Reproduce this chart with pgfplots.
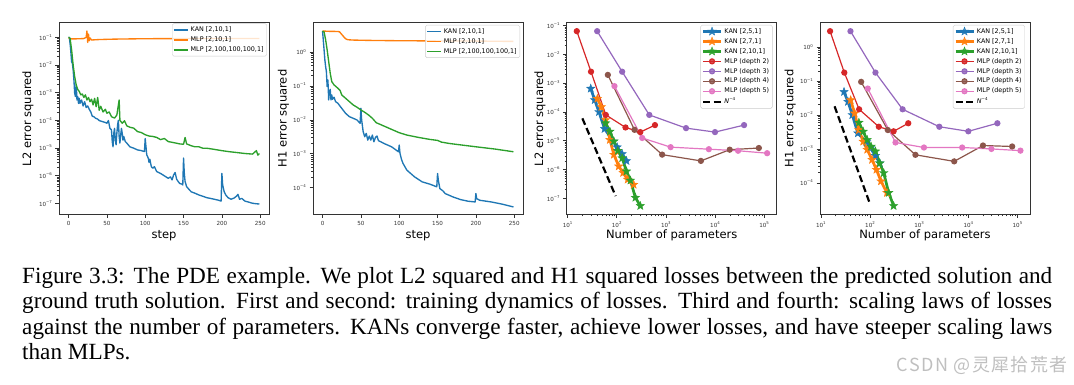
\documentclass[border=0pt]{standalone}
\usepackage{fontspec}
\setmainfont{DejaVu Sans}
\newfontfamily\capfont{Liberation Serif}
\newfontfamily\cjk[LetterSpace=8]{Noto Sans CJK SC}
\usepackage{pgfplots}
\pgfplotsset{compat=1.18}
\definecolor{tblue}{HTML}{1F77B4}
\definecolor{torange}{HTML}{FF7F0E}
\definecolor{tgreen}{HTML}{2CA02C}
\definecolor{tred}{HTML}{D62728}
\definecolor{tpurple}{HTML}{9467BD}
\definecolor{tbrown}{HTML}{8C564B}
\definecolor{tpink}{HTML}{E377C2}
\newcommand{\ex}[1]{10\raisebox{0.5em}{\fontsize{3.9}{4}\selectfont #1}}
\pgfdeclareplotmark{fivestar}{%
  \pgfpathmoveto{\pgfpointpolar{90}{\pgfplotmarksize}}%
  \pgfpathlineto{\pgfpointpolar{126}{0.42\pgfplotmarksize}}%
  \pgfpathlineto{\pgfpointpolar{162}{\pgfplotmarksize}}%
  \pgfpathlineto{\pgfpointpolar{198}{0.42\pgfplotmarksize}}%
  \pgfpathlineto{\pgfpointpolar{234}{\pgfplotmarksize}}%
  \pgfpathlineto{\pgfpointpolar{270}{0.42\pgfplotmarksize}}%
  \pgfpathlineto{\pgfpointpolar{306}{\pgfplotmarksize}}%
  \pgfpathlineto{\pgfpointpolar{342}{0.42\pgfplotmarksize}}%
  \pgfpathlineto{\pgfpointpolar{18}{\pgfplotmarksize}}%
  \pgfpathlineto{\pgfpointpolar{54}{0.42\pgfplotmarksize}}%
  \pgfpathclose
  \pgfusepathqfillstroke}
\pgfplotsset{
  mybase/.style={scale only axis, width=210pt, height=192pt, anchor=south west,
    axis line style={black!80, line width=0.8pt},
    every tick/.style={black!80, line width=0.6pt},
    major tick length=3.5pt, minor tick length=2pt, tick align=outside, tick pos=left,
    ticklabel style={font=\fontsize{5.6}{6}\selectfont, text=black!80},
    label style={font=\fontsize{11.5}{13}\selectfont},
    xlabel style={at={(axis description cs:0.5,-0.11)}, anchor=center},
    /pgf/number format/assume math mode=true,
    legend cell align=left,
    legend style={font=\fontsize{6.4}{7}\selectfont, draw=black!20, rounded corners=1.5pt,
      fill=white, fill opacity=0.8, text opacity=1, inner sep=1pt, row sep=-0.6pt,
      nodes={inner sep=2.1pt}},
  },
  stepax/.style={mybase, xlabel={step},
    legend image code/.code={\draw[##1] (0pt,0pt) -- (14pt,0pt);}},
  parax/.style={mybase, xlabel={Number of parameters},
    legend image code/.code={\draw[mark repeat=2,mark phase=2,##1] plot coordinates {(0pt,0pt) (9pt,0pt) (18pt,0pt)};}},
  st/.style={color=#1, line width=1.35pt, line join=round},
  kan/.style={color=#1, line width=2.7pt, mark=fivestar, mark size=4.4pt, mark options={solid, line width=0.4pt, fill=#1, draw=#1}},
  mlp/.style={color=#1, line width=1.2pt, mark=*, mark size=2.5pt, mark options={solid, draw=#1, fill=#1}},
}
\begin{document}
\begin{tikzpicture}
\useasboundingbox (0pt,0pt) rectangle (1074pt,385pt);
% ---------- Plot 1: L2 vs step
\begin{axis}[ymode=log, stepax, at={(59pt,170.5pt)}, xmin=-12.45, xmax=261.45, xtick={0,50,100,150,200,250},
  ymin=3.93e-8, ymax=0.343,
  ytick={1e-7,1e-6,1e-5,1e-4,1e-3,1e-2,1e-1},
  yticklabels={\ex{−7},\ex{−6},\ex{−5},\ex{−4},\ex{−3},\ex{−2},\ex{−1}},
  ylabel={L2 error squared}, ylabel style={at={(axis description cs:-0.148,0.5)}, anchor=center},
  legend style={at={(0.99,0.995)}, anchor=north east}]
\addplot[st=tblue] coordinates {(0,0.1)(1,0.1)(2,0.06)(3,0.03)(4,0.013)(5,0.0115)(6,6.6e-3)(7,2.9e-3)(8,9.5e-4)(9,7.2e-4)(10,1.9e-3)(11,5.4e-4)(12,7.2e-4)(13,4.1e-4)(14,6.2e-4)(15,4.1e-4)(17,5.4e-4)(19,3.3e-4)(21,4.7e-4)(23,2.9e-4)(25,3.3e-4)(27,2.5e-4)(29,2.0e-4)(31,1.4e-4)(33,1.35e-4)(35,1.2e-4)(38,1.1e-4)(40,9.8e-5)(44,9.0e-5)(48,8.3e-5)(50,7.8e-5)(52,9.8e-5)(54,5.1e-5)(56,4.5e-5)(57,1.7e-5)(58,1.1e-5)(59,3.4e-5)(60,5.1e-5)(61,1.9e-5)(62,1.3e-5)(63,3.4e-5)(64,6.9e-5)(65,1.0e-4)(66,2.6e-5)(67,1.5e-5)(68,2.9e-5)(69,5.1e-5)(70,3.4e-5)(71,1.9e-5)(72,2.6e-5)(74,1.7e-5)(76,1.5e-5)(80,1.1e-5)(85,9.8e-6)(90,8.5e-6)(95,8.0e-6)(99,7.4e-6)(100,2.2e-5)(101,1.1e-5)(102,5.6e-6)(104,4.3e-6)(105,3.0e-6)(106,3.9e-6)(108,2.1e-6)(110,1.85e-6)(112,2.1e-6)(115,1.4e-6)(120,1.2e-6)(125,9.8e-7)(130,8.0e-7)(133,9.0e-7)(135,7.0e-7)(137,1.05e-6)(139,1.3e-6)(141,7.4e-7)(143,6.1e-7)(145,5.2e-7)(148,4.9e-7)(149,4.6e-7)(150,4.3e-6)(151,1.2e-6)(152,6.1e-7)(154,4.0e-7)(157,3.2e-7)(160,2.6e-7)(165,2.3e-7)(170,2.0e-7)(175,1.8e-7)(180,1.6e-7)(185,1.5e-7)(190,1.4e-7)(195,1.3e-7)(199,1.2e-7)(200,1.2e-6)(201,4.6e-7)(203,2.6e-7)(205,2.0e-7)(208,1.6e-7)(212,1.4e-7)(216,1.55e-7)(219,1.8e-7)(221,2.1e-7)(223,1.4e-7)(226,1.5e-7)(230,1.2e-7)(235,1.1e-7)(240,1.0e-7)(245,9.6e-8)(249,9.4e-8)};
\addlegendentry{KAN [2,10,1]}
\addplot[st=torange] coordinates {(0,0.095)(3,0.088)(10,0.088)(20,0.09)(23,0.1)(24,0.17)(25,0.065)(26,0.13)(27,0.075)(28,0.095)(30,0.08)(40,0.083)(60,0.086)(100,0.089)(150,0.09)(200,0.09)(249,0.09)};
\addlegendentry{MLP [2,10,1]}
\addplot[st=tgreen] coordinates {(0,0.1)(2,0.092)(4,0.035)(6,0.01)(8,3.8e-3)(10,1.9e-3)(12,1.3e-3)(14,1.1e-3)(16,8.3e-4)(18,8.9e-4)(20,6.7e-4)(22,8.3e-4)(24,5.4e-4)(26,6.7e-4)(28,4.7e-4)(30,5.8e-4)(32,3.6e-4)(34,6.2e-4)(36,3.1e-4)(38,6.7e-4)(40,2.3e-4)(42,3.2e-4)(45,2.0e-4)(48,2.5e-4)(50,1.8e-4)(53,2.0e-4)(56,1.35e-4)(60,1.2e-4)(63,1.55e-4)(66,5.4e-4)(67,1.0e-4)(70,7.8e-5)(73,9.6e-5)(76,6.3e-5)(80,5.6e-5)(85,5.2e-5)(90,3.9e-5)(95,3.6e-5)(100,3.0e-5)(105,2.7e-5)(110,2.6e-5)(115,2.4e-5)(120,2.0e-5)(125,2.2e-5)(130,1.7e-5)(135,1.6e-5)(140,1.5e-5)(145,1.4e-5)(150,1.36e-5)(152,2.4e-5)(154,1.4e-5)(160,1.2e-5)(165,1.1e-5)(170,1.1e-5)(175,9.8e-6)(180,9.8e-6)(190,8.9e-6)(200,8.0e-6)(210,7.3e-6)(220,6.8e-6)(230,6.3e-6)(240,6.0e-6)(245,8.0e-6)(247,5.5e-6)(249,6.3e-6)};
\addlegendentry{MLP [2,100,100,100,1]}
\end{axis}
% ---------- Plot 2: H1 vs step
\begin{axis}[ymode=log, stepax, at={(313pt,170.5pt)}, xmin=-12.45, xmax=261.45, xtick={0,50,100,150,200,250},
  ymin=1.6e-5, ymax=7.5,
  ytick={1e-4,1e-3,1e-2,1e-1,1},
  yticklabels={\ex{−4},\ex{−3},\ex{−2},\ex{−1},\ex{0}},
  ylabel={H1 error squared}, ylabel style={at={(axis description cs:-0.141,0.5)}, anchor=center},
  legend style={at={(0.986,0.987)}, anchor=north east}]
\addplot[st=tblue] coordinates {(0,4.2)(2,1.17)(3,0.593)(4,0.376)(5,0.267)(6,0.0962)(7,0.151)(8,0.0387)(9,0.0683)(10,0.0801)(11,0.0387)(12,0.0544)(13,0.0405)(15,0.0465)(17,0.0345)(20,0.0308)(25,0.0219)(30,0.0156)(35,0.0124)(40,0.0111)(45,0.00989)(49,0.00787)(50,0.0219)(51,0.00989)(53,0.00446)(55,0.00317)(57,0.00398)(59,0.00252)(61,0.00332)(63,0.00252)(65,0.00355)(67,0.00225)(69,0.00303)(71,0.00332)(73,0.00241)(76,0.00225)(80,0.00201)(90,0.0016)(99,0.00114)(100,0.0018)(101,0.00102)(103,6.76e-4)(105,5.14e-4)(110,3.26e-4)(115,2.6e-4)(120,2.07e-4)(130,1.47e-4)(140,1.26e-4)(149,1.05e-4)(150,2.6e-4)(151,1.65e-4)(153,9.34e-5)(157,7.96e-5)(160,6.64e-5)(170,5.29e-5)(180,4.41e-5)(190,3.94e-5)(199,3.76e-5)(200,6.64e-5)(201,4.72e-5)(205,4.21e-5)(220,3.76e-5)(235,3.21e-5)(249,2.67e-5)};
\addlegendentry{KAN [2,10,1]}
\addplot[st=torange] coordinates {(0,4.2)(5,4.15)(10,4.1)(15,4.1)(20,4.05)(22,4.0)(25,3.34)(28,2.78)(30,2.48)(33,2.32)(40,2.27)(60,2.22)(100,2.17)(150,2.14)(200,2.12)(249,2.07)};
\addlegendentry{MLP [2,10,1]}
\addplot[st=tgreen] coordinates {(0,4.2)(2,3.91)(4,2.32)(6,1.17)(8,0.529)(10,0.239)(12,0.135)(15,0.1076)(20,0.0858)(23,0.0731)(25,0.0544)(30,0.0434)(35,0.0345)(40,0.0275)(45,0.0235)(50,0.0196)(55,0.0167)(60,0.0139)(65,0.0111)(70,0.00824)(75,0.00736)(80,0.00657)(90,0.00523)(100,0.00417)(110,0.00355)(125,0.00303)(140,0.00264)(150,0.00247)(155,0.0022)(165,0.00201)(175,0.00188)(200,0.0016)(225,0.00137)(249,0.00114)};
\addlegendentry{MLP [2,100,100,100,1]}
\end{axis}
% ---------- Plot 3: L2 vs params
\begin{axis}[xmode=log, ymode=log, parax, at={(566.7pt,170.5pt)}, xmin=9.6, xmax=1.8e5,
  xtick={10,100,1000,10000,100000}, xticklabels={\ex{1},\ex{2},\ex{3},\ex{4},\ex{5}},
  ymin=2.75e-8, ymax=0.128,
  ytick={1e-7,1e-6,1e-5,1e-4,1e-3,1e-2,1e-1},
  yticklabels={\ex{−7},\ex{−6},\ex{−5},\ex{−4},\ex{−3},\ex{−2},\ex{−1}},
  ylabel={L2 error squared}, ylabel style={at={(axis description cs:-0.127,0.5)}, anchor=center},
  legend style={at={(0.98,0.987)}, anchor=north east}]
\addplot[kan=tblue] coordinates {(29.6,6.5e-4)(35.6,2.6e-4)(43.6,1.0e-4)(56.6,2.6e-5)(85,9.5e-6)(102,6e-6)(129,3.5e-6)(158,2.0e-6)};
\addlegendentry{KAN [2,5,1]}
\addplot[kan=torange] coordinates {(40.4,2.9e-4)(48.6,1.5e-4)(59.4,5.3e-5)(72.6,1.08e-5)(87.5,3.3e-6)(110,1.3e-6)(135,7.7e-7)(167,4.5e-7)(221,3.0e-7)};
\addlegendentry{KAN [2,7,1]}
\addplot[kan=tgreen] coordinates {(59.4,4.1e-5)(72.6,2.1e-5)(87.5,9.6e-6)(105,4.5e-6)(129,2.5e-6)(158,8.7e-7)(190,4.2e-7)(240,1.06e-7)(302,5.5e-8)};
\addlegendentry{KAN [2,10,1]}
\addplot[mlp=tred] coordinates {(15.4,0.064)(30,2.5e-3)(60,7.9e-5)(151,2.9e-5)(302,2.0e-5)(600,3.5e-5)};
\addlegendentry{MLP (depth 2)}
\addplot[mlp=tpurple] coordinates {(40,0.064)(129,2.5e-3)(460,7.9e-5)(2570,2.75e-5)(10000,2.0e-5)(39000,3.5e-5)};
\addlegendentry{MLP (depth 3)}
\addplot[mlp=tbrown] coordinates {(66,1.94e-3)(230,2.4e-5)(840,3.3e-6)(5160,2.0e-6)(19900,4.9e-6)(78000,5.6e-6)};
\addlegendentry{MLP (depth 4)}
\addplot[mlp=tpink] coordinates {(90,7.9e-4)(330,1.25e-5)(1250,6.0e-6)(7500,5.1e-6)(29500,4.5e-6)(115000,3.7e-6)};
\addlegendentry{MLP (depth 5)}
\addplot[black, line width=2.2pt, dash pattern=on 7pt off 3.5pt] coordinates {(20,6e-5)(95,1.2e-7)};
\addlegendentry{\textit{N}\raisebox{0.45em}{\fontsize{4}{4}\selectfont −4}}
\end{axis}
% ---------- Plot 4: H1 vs params
\begin{axis}[xmode=log, ymode=log, parax, at={(820pt,170.5pt)}, xmin=9.6, xmax=1.8e5,
  xtick={10,100,1000,10000,100000}, xticklabels={\ex{1},\ex{2},\ex{3},\ex{4},\ex{5}},
  ymin=1.17e-5, ymax=5.3,
  ytick={1e-4,1e-3,1e-2,1e-1,1},
  yticklabels={\ex{−4},\ex{−3},\ex{−2},\ex{−1},\ex{0}},
  ylabel={H1 error squared}, ylabel style={at={(axis description cs:-0.142,0.5)}, anchor=center},
  legend style={at={(0.976,0.987)}, anchor=north east}]
\addplot[kan=tblue] coordinates {(29.6,0.048)(35.6,0.0245)(43.6,0.0100)(56.6,2.9e-3)(85,1.6e-3)(102,1.06e-3)(129,6.3e-4)(158,3.8e-4)};
\addlegendentry{KAN [2,5,1]}
\addplot[kan=torange] coordinates {(40.4,0.0275)(48.6,0.0112)(59.4,3.6e-3)(72.6,1.65e-3)(87.5,9.5e-4)(110,4.8e-4)(135,2.45e-4)(167,1.12e-4)(221,5.1e-5)};
\addlegendentry{KAN [2,7,1]}
\addplot[kan=tgreen] coordinates {(59.4,5.97e-3)(72.6,3.25e-3)(87.5,1.85e-3)(105,1.18e-3)(129,8.5e-4)(158,3.8e-4)(190,1.96e-4)(240,5.1e-5)(302,2.1e-5)};
\addlegendentry{KAN [2,10,1]}
\addplot[mlp=tred] coordinates {(15.4,2.94)(30,0.177)(60,0.0147)(151,4.5e-3)(302,3.3e-3)(600,5.7e-3)};
\addlegendentry{MLP (depth 2)}
\addplot[mlp=tpurple] coordinates {(40,2.94)(129,0.177)(460,0.0147)(2570,4.5e-3)(10000,3.3e-3)(39000,5.7e-3)};
\addlegendentry{MLP (depth 3)}
\addplot[mlp=tbrown] coordinates {(66,0.0946)(230,3.6e-3)(840,6.7e-4)(5160,4.3e-4)(19900,1.26e-3)(78000,1.18e-3)};
\addlegendentry{MLP (depth 4)}
\addplot[mlp=tpink] coordinates {(90,0.060)(330,1.55e-3)(1250,1.1e-3)(7500,1.1e-3)(29500,1.0e-3)(115000,8.9e-4)};
\addlegendentry{MLP (depth 5)}
\addplot[black, line width=2.2pt, dash pattern=on 7pt off 3.5pt] coordinates {(19,0.018)(96,2.8e-5)};
\addlegendentry{\textit{N}\raisebox{0.45em}{\fontsize{4}{4}\selectfont −4}}
\end{axis}
% ---------- caption
\node[anchor=base west, inner sep=0pt, text width=1030pt, align=justify,
  font=\capfont\fontsize{23.2}{25.5}\selectfont] at (22pt,101.7pt) {Figure 3.3: The PDE example. We plot L2 squared and H1 squared losses between the predicted solution and\linebreak ground truth solution. First and second: training dynamics of losses. Third and fourth: scaling laws of losses\linebreak against the number of parameters. KANs converge faster, achieve lower losses, and have steeper scaling laws\linebreak than MLPs.};
\node[anchor=base east, inner sep=0pt, text=black!25, font=\cjk\fontsize{18}{19}\selectfont] at (1068pt,13pt) {CSDN @灵犀拾荒者};
\end{tikzpicture}
\end{document}
